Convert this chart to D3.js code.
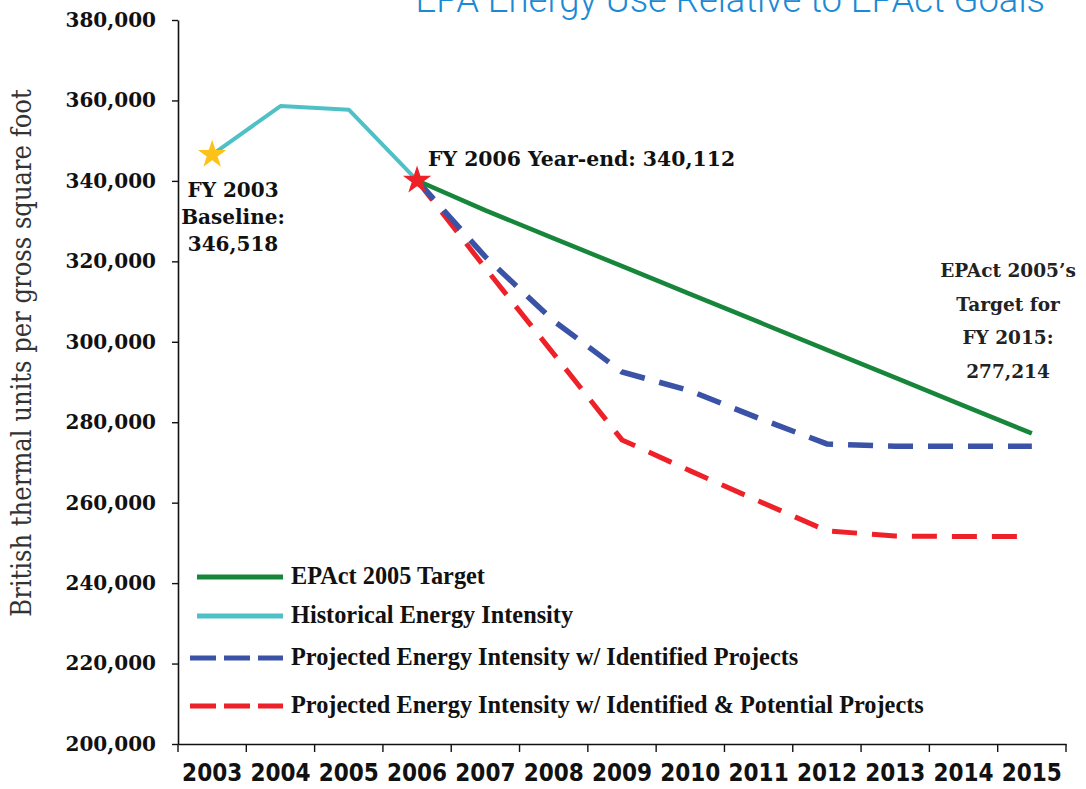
<!DOCTYPE html>
<html><head><meta charset="utf-8">
<script src="https://cdn.jsdelivr.net/npm/d3@7"></script>
<style>
body{margin:0;background:#fff;}
svg{display:block;}
</style></head>
<body>
<svg id="chart" width="1086" height="789"></svg>
<script>
const years = ["2003","2004","2005","2006","2007","2008","2009","2010","2011","2012","2013","2014","2015"];
const historical = [["2003",346518],["2004",358600],["2005",357700],["2006",340112]];
const epactTarget = [["2006",340112],["2007",332657],["2008",325727],["2009",318797],["2010",311866],["2011",304936],["2012",298005],["2013",291075],["2014",284145],["2015",277214]];
const identified = [["2006",340112],["2007",321100],["2008",305200],["2009",292500],["2010",287800],["2011",281000],["2012",274600],["2013",274000],["2014",274000],["2015",274000]];
const potential = [["2006",340112],["2007",318300],["2008",297000],["2009",275600],["2010",267900],["2011",260400],["2012",253000],["2013",251700],["2014",251600],["2015",251600]];
const yTicks = [200000,220000,240000,260000,280000,300000,320000,340000,360000,380000];
const legendLabels = ["EPAct 2005 Target","Historical Energy Intensity","Projected Energy Intensity w/ Identified Projects","Projected Energy Intensity w/ Identified & Potential Projects"];
const titleText = "EPA Energy Use Relative to EPAct Goals";
const baselineLabel = ["FY 2003","Baseline:","346,518"];
const yearEndLabel = "FY 2006 Year-end: 340,112";
const targetLabel = ["EPAct 2005\u2019s","Target for","FY 2015:","277,214"];

const svg = d3.select("#chart");
const L = 178, R = 1066, T = 20, B = 744;
const x = d3.scaleBand().domain(years).range([L, R]).paddingInner(0).paddingOuter(0);
const y = d3.scaleLinear().domain([200000, 380000]).range([B, T]);
const cx = d => x(d) + x.bandwidth()/2;

const colors = {green:"#17863b", cyan:"#4fc1c6", blue:"#3a53a6", red:"#ee2128", yellow:"#fdc218", title:"#1b8ad3"};

// Title (clipped at top, as in the reference)
svg.append("text").attr("x", 1045).attr("y", 12).attr("text-anchor","end")
  .attr("font-family","Roboto, 'Liberation Sans', sans-serif").attr("font-weight",300)
  .attr("font-size",36.4).attr("fill",colors.title).text(titleText);

// Y axis
const yAxis = d3.axisLeft(y).tickValues(yTicks).tickFormat(d3.format(",")).tickSize(6).tickSizeOuter(0).tickPadding(16);
const gy = svg.append("g").attr("transform",`translate(${L},0)`).call(yAxis);
gy.select(".domain").attr("stroke","#111").attr("stroke-width",1.6);
gy.selectAll(".tick line").attr("stroke","#111").attr("stroke-width",1.4);
gy.selectAll(".tick text").attr("font-family","'DejaVu Serif', serif").attr("font-weight","bold")
  .attr("font-size",20).attr("fill","#111");

// X axis (labels)
const xAxis = d3.axisBottom(x).tickSize(0).tickSizeOuter(0).tickPadding(20);
const gx = svg.append("g").attr("transform",`translate(0,${B})`).call(xAxis);
gx.select(".domain").attr("stroke","#111").attr("stroke-width",1.6);
gx.selectAll(".tick text").attr("font-family","'DejaVu Sans Condensed','DejaVu Sans', sans-serif")
  .style("font-stretch","condensed").attr("font-weight","bold").attr("font-size",24).attr("fill","#111");
// boundary ticks
const bounds = years.map(d => x(d)).concat([x(years[years.length-1]) + x.step()]);
svg.append("g").selectAll("line").data(bounds).join("line")
  .attr("x1", d=>d).attr("x2", d=>d).attr("y1", B).attr("y2", B+8)
  .attr("stroke","#111").attr("stroke-width",1.4);

// Y axis title
svg.append("text").attr("transform",`translate(31,353) rotate(-90)`).attr("text-anchor","middle")
  .attr("font-family","'DejaVu Serif Condensed','DejaVu Serif', serif").style("font-stretch","condensed")
  .attr("font-size",27).attr("fill","#333")
  .text("British thermal units per gross square foot");

const line = d3.line().x(d => cx(d[0])).y(d => y(d[1]));

svg.append("path").datum(historical).attr("d", line).attr("fill","none")
  .attr("stroke",colors.cyan).attr("stroke-width",4).attr("stroke-linejoin","round");
svg.append("path").datum(potential).attr("d", line).attr("fill","none")
  .attr("stroke",colors.red).attr("stroke-width",5).attr("stroke-dasharray","25,15");
svg.append("path").datum(identified).attr("d", line).attr("fill","none")
  .attr("stroke",colors.blue).attr("stroke-width",5.5).attr("stroke-dasharray","25,15");
svg.append("path").datum(epactTarget).attr("d", line).attr("fill","none")
  .attr("stroke",colors.green).attr("stroke-width",4.5).attr("stroke-linejoin","round");

// Stars
const star = d3.symbol().type(d3.symbolStar).size(250);
svg.append("path").attr("d", star()).attr("transform",`translate(${cx(historical[0][0])},${y(historical[0][1])})`).attr("fill",colors.yellow);
svg.append("path").attr("d", star()).attr("transform",`translate(${cx("2006")},${y(340112)})`).attr("fill",colors.red);

// Annotations
const annFont = "'DejaVu Serif', serif";
const a1 = svg.append("text").attr("font-family",annFont).attr("font-weight","bold").attr("font-size",20)
  .attr("fill","#111").attr("text-anchor","middle");
baselineLabel.forEach((t,i)=>a1.append("tspan").attr("x",233).attr("y",197+i*27).text(t));
svg.append("text").attr("font-family",annFont).attr("font-weight","bold").attr("font-size",20.4)
  .attr("fill","#111").attr("x",428).attr("y",166).text(yearEndLabel);
const a3 = svg.append("text").attr("font-family",annFont).attr("font-weight","bold").attr("font-size",18.5)
  .attr("fill","#222").attr("text-anchor","middle");
targetLabel.forEach((t,i)=>a3.append("tspan").attr("x",1008).attr("y",277+i*33.5).text(t));

// Legend
const legY = [577,616,658,706];
const legStyles = [
  {c:colors.green, dash:null},
  {c:colors.cyan, dash:null},
  {c:colors.blue, dash:"26,8"},
  {c:colors.red, dash:"26,8"}
];
const lg = svg.append("g");
legendLabels.forEach((lab,i)=>{
  const s = legStyles[i];
  lg.append("line").attr("x1", s.dash?190:197).attr("x2",283).attr("y1",legY[i]).attr("y2",legY[i])
    .attr("stroke",s.c).attr("stroke-width",5).attr("stroke-dasharray",s.dash);
  lg.append("text").attr("x",291).attr("y",legY[i]+7).attr("font-family","'Liberation Serif', serif")
    .attr("font-weight","bold").attr("font-size",24.3).attr("fill","#111").text(lab);
});
</script>
</body></html>
